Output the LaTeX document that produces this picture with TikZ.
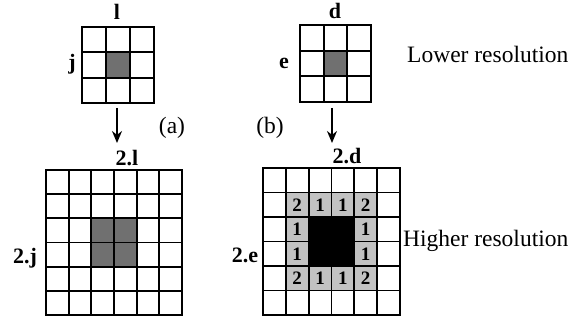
\documentclass[tikz,border=0pt]{standalone}
\usepackage{fontspec}
\setmainfont{Liberation Serif}
\usetikzlibrary{arrows.meta,positioning}

\begin{document}
\begin{tikzpicture}[
    x=1pt, y=-1pt,
    gridline/.style={line width=1.8pt, line cap=rect},
    darkcell/.style={fill=black!56},
    ringcell/.style={fill=black!24},
    corecell/.style={fill=black},
    axis/.style={font=\fontsize{22}{24}\selectfont\bfseries, inner sep=1pt},
    count/.style={font=\fontsize{19}{20}\selectfont\bfseries, inner sep=0pt},
    caption/.style={font=\fontsize{23.5}{26}\selectfont, inner sep=0pt},
    down/.style={-{Stealth[length=12pt,width=10pt]}, line width=1.8pt}
]
\useasboundingbox (0,0) rectangle (573,320);

% lower resolution, left
\fill[darkcell] (106,52.3) rectangle (130,77.7);
\foreach \i in {0,...,3} {
    \draw[gridline] (82+24*\i,27) -- (82+24*\i,103);
    \draw[gridline] (82,27+25.33*\i) -- (154,27+25.33*\i);
}
\node[axis] (l) at (117,12) {l};
\node[axis] (j) at (72,64) {j};

% lower resolution, right
\fill[darkcell] (323.7,50.7) rectangle (347.3,76.3);
\foreach \i in {0,...,3} {
    \draw[gridline] (300+23.67*\i,25) -- (300+23.67*\i,102);
    \draw[gridline] (300,25+25.67*\i) -- (371,25+25.67*\i);
}
\node[axis] (d) at (335,11) {d};
\node[axis] (e) at (284,63) {e};

\node[caption, anchor=base west] (low) at (407,63) {Lower resolution};

% arrows
\coordinate (a1) at (117,108);
\coordinate (a2) at (117,143);
\coordinate (b1) at (332,108);
\coordinate (b2) at (332,143);
\draw[down] (a1) -- (a2);
\draw[down] (b1) -- (b2);
\node[caption] (pa) at (172,128) {(a)};
\node[caption] (pb) at (270,128) {(b)};

% higher resolution, left
\fill[darkcell] (91.3,218.3) rectangle (136.7,266.7);
\foreach \i in {0,...,6} {
    \draw[gridline] (46+22.67*\i,170) -- (46+22.67*\i,315);
    \draw[gridline] (46,170+24.17*\i) -- (182,170+24.17*\i);
}
\node[axis] (hl) at (127,158) {2.l};
\node[axis] (hj) at (25,258) {2.j};

% higher resolution, right
\fill[ringcell] (285.8,192.5) rectangle (377.2,290.5);
\fill[corecell] (308.7,217) rectangle (354.3,266);
\foreach \i in {0,...,6} {
    \draw[gridline] (263+22.83*\i,168) -- (263+22.83*\i,315);
    \draw[gridline] (263,168+24.5*\i) -- (400,168+24.5*\i);
}
\foreach \c/\r/\n in {1/1/2, 2/1/1, 3/1/1, 4/1/2,
                      1/2/1, 4/2/1, 1/3/1, 4/3/1,
                      1/4/2, 2/4/1, 3/4/1, 4/4/2}
    \node[count] (n\c\r) at (263+22.83*\c+11.4,168+24.5*\r+12.5) {\n};
\node[axis] (hd) at (347,156) {2.d};
\node[axis] (he) at (245,255) {2.e};

\node[caption, anchor=base west] (high) at (403,247) {Higher resolution};

\end{tikzpicture}
\end{document}
